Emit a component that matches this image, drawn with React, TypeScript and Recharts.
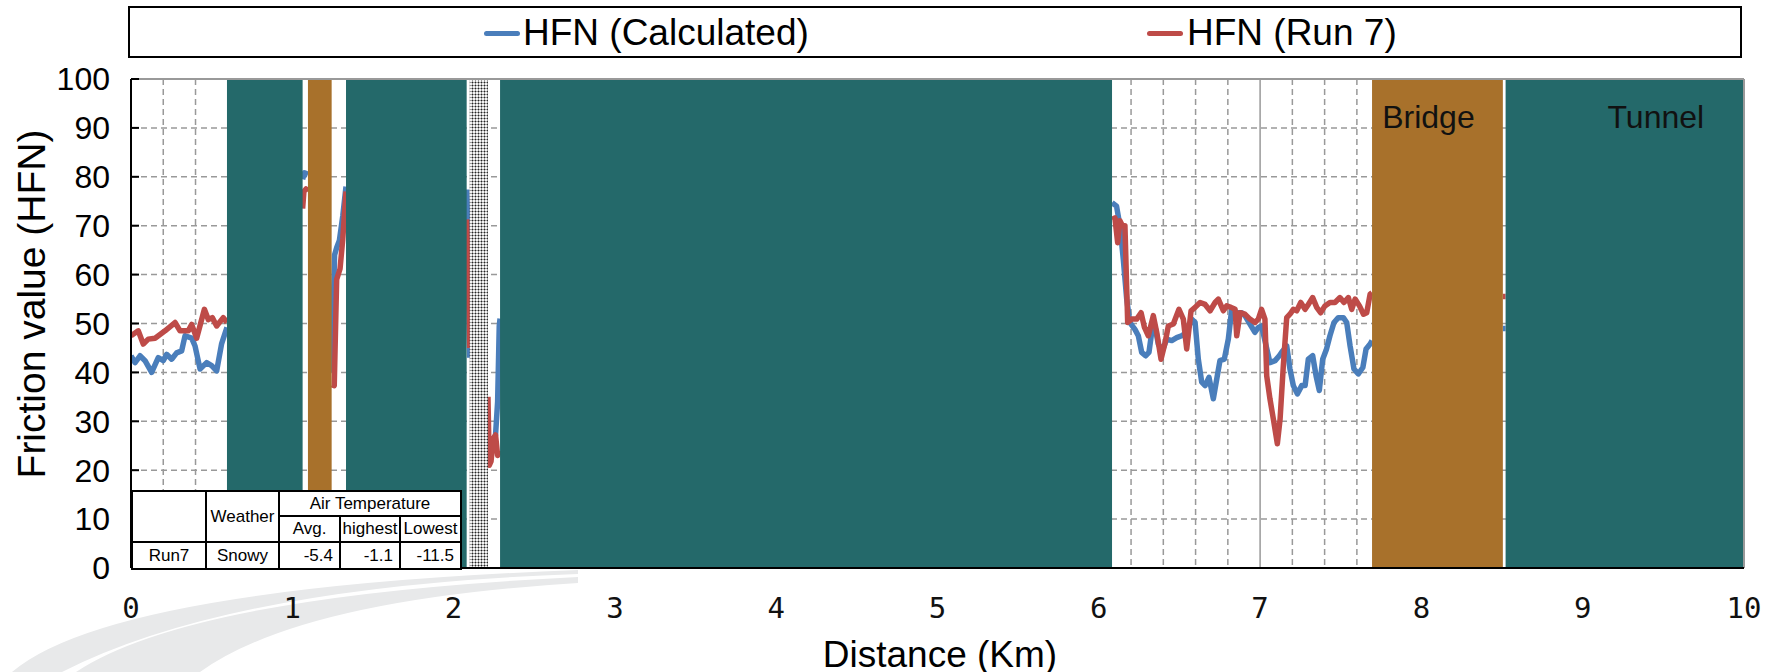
import React from 'react';
import { LineChart, Line, XAxis, YAxis, CartesianGrid, ReferenceArea, ReferenceLine } from 'recharts';

// HFN (Calculated) - null marks a break where the road is covered by a band
const calcKm = [
  0, 0.025, 0.056, 0.087, 0.128, 0.169, 0.2, 0.221, 0.252, 0.283, 0.314, 0.335, 0.376, 0.397, 0.428, 0.469, 0.5, 0.531, 0.562, 0.595,
  0.8,
  1.064, 1.075, 1.097,
  1.15,
  1.244, 1.262, 1.275, 1.292, 1.313, 1.333,
  1.7,
  2.081, 2.088, 2.1,
  2.15,
  2.213, 2.232, 2.26, 2.273, 2.283, 2.288,
  4,
  6.082, 6.11, 6.131, 6.152, 6.173, 6.193, 6.224, 6.245, 6.266, 6.29, 6.311, 6.328, 6.348, 6.369, 6.394, 6.421, 6.452, 6.483, 6.514,
  6.545, 6.576, 6.597, 6.617, 6.638, 6.659, 6.683, 6.71, 6.731, 6.751, 6.778, 6.803, 6.824, 6.855, 6.886, 6.906, 6.937, 6.968, 6.989,
  7.009, 7.03, 7.061, 7.093, 7.119, 7.14, 7.165, 7.185, 7.206, 7.231, 7.258, 7.279, 7.299, 7.326, 7.347, 7.367, 7.388, 7.412, 7.433,
  7.458, 7.485, 7.516, 7.537, 7.558, 7.582, 7.609, 7.637, 7.657, 7.682, 7.694,
  8.1,
  8.505, 8.522,
];
const calcHfn = [
  43.4, 42, 43.4, 42.4, 40, 43, 42.4, 43.7, 42.7, 44, 44.4, 47.5, 47, 45.4, 40.7, 42, 41.4, 40.3, 45.9, 49.2,
  null,
  79.5, 80.8, 80.5,
  null,
  40, 64, 65.5, 67, 72, 78,
  null,
  77.4, 70, 43,
  null,
  23, 24.5, 27.2, 34, 49.5, 51,
  null,
  74.7, 74, 70, 63.1, 55, 50.2, 48.8, 47.5, 44.1, 43.4, 44.1, 48.2, 49.5, 45.8, 44.4, 46.8, 46.5, 47.1, 47.5,
  48.2, 50.9, 50.2, 42.7, 38, 37.3, 39, 34.6, 38.6, 42.4, 42.7, 46.8, 52.9, 52.2, 52.2, 51.6, 49.9, 48.2, 49.2,
  49.5, 46.5, 42, 42.4, 43.4, 44.4, 45.4, 40.7, 37.3, 35.6, 37.3, 37.3, 42.7, 43.4, 39.3, 36.3, 42.7, 44.8, 47.5,
  50.2, 51.2, 51.2, 50.2, 45.4, 40.7, 39.7, 41, 44.8, 45.8, 46.5,
  null,
  49, 49,
];

// HFN (Run 7)
const run7Km = [
  0, 0.045, 0.076, 0.107, 0.149, 0.211, 0.273, 0.304, 0.355, 0.376, 0.407, 0.455, 0.479, 0.504, 0.531, 0.572, 0.595,
  0.8,
  1.064, 1.072, 1.085, 1.097,
  1.15,
  1.244, 1.26, 1.275, 1.296, 1.313, 1.333,
  1.7,
  2.081, 2.09, 2.1,
  2.15,
  2.213, 2.221, 2.232, 2.246, 2.26, 2.273, 2.288,
  4,
  6.082, 6.1, 6.117, 6.131, 6.146, 6.162, 6.179, 6.204, 6.235, 6.262, 6.283, 6.307, 6.338, 6.359, 6.386, 6.411, 6.431, 6.462, 6.497,
  6.524, 6.545, 6.572, 6.597, 6.628, 6.659, 6.69, 6.721, 6.741, 6.772, 6.793, 6.82, 6.845, 6.855, 6.876, 6.906, 6.937, 6.968, 6.989,
  7.009, 7.03, 7.041, 7.061, 7.082, 7.107, 7.124, 7.144, 7.165, 7.185, 7.206, 7.227, 7.252, 7.279, 7.299, 7.326, 7.351, 7.375, 7.402,
  7.433, 7.464, 7.495, 7.52, 7.547, 7.568, 7.589, 7.616, 7.641, 7.661, 7.682, 7.694,
  8.1,
  8.505, 8.522,
];
const run7Hfn = [
  47.5, 48.5, 45.8, 46.8, 47, 48.5, 50.2, 48.5, 48.5, 49.8, 47, 52.9, 50.8, 51.2, 49.5, 51.2, 50.2,
  null,
  73.5, 77, 77.5, 77,
  null,
  37.5, 37.3, 59, 61.2, 67.3, 77,
  null,
  71.3, 60, 45,
  null,
  35, 21, 21.8, 26.5, 27.2, 23, 24,
  null,
  71.3, 71.6, 66.5, 71, 70, 70, 50.2, 50.9, 50.9, 52.2, 49.2, 47.5, 51.6, 48.2, 42.7, 46.1, 49.5, 49.9, 52.9,
  50.9, 44.8, 52.6, 53.3, 54.3, 53.9, 52.6, 54.3, 55, 52.6, 53.6, 53.3, 52.9, 47.5, 52.2, 51.9, 50.9, 50.2, 50.9,
  52.9, 50.9, 39.3, 34.6, 30.5, 25.4, 30.5, 41.4, 51.2, 51.9, 52.9, 52.6, 54.3, 52.9, 53.9, 55.3, 53.3, 52.2, 53.6,
  54.3, 54.3, 55.3, 54.3, 55.3, 52.9, 55, 53.6, 51.9, 52.2, 56, 56.3,
  null,
  55.5, 55.5,
];

// covered sections of the route
const bandFrom = [0.595, 1.097, 1.333, 2.1, 2.288, 7.694, 8.522];
const bandTo = [1.064, 1.244, 2.081, 2.213, 6.082, 8.505, 10];
const bandKind = ['tunnel', 'bridge', 'tunnel', 'hatch', 'tunnel', 'bridge', 'tunnel'];
const bandLabel = ['', '', '', '', '', 'Bridge', 'Tunnel'];

const xTicks = [0, 1, 2, 3, 4, 5, 6, 7, 8, 9, 10];
const yTicks = [0, 10, 20, 30, 40, 50, 60, 70, 80, 90, 100];

const tempHead = ['Avg.', 'highest', 'Lowest'];
const run7Row = ['Run7', 'Snowy', '-5.4', '-1.1', '-11.5'];

const calcData = calcKm.map((km, i) => ({ km, hfn: calcHfn[i] }));
const run7Data = run7Km.map((km, i) => ({ km, hfn: run7Hfn[i] }));

const minorKm: number[] = [];
for (let i = 1; i < 50; i++) if (i % 5 !== 0) minorKm.push(i / 5);

const bandFill: Record<string, string> = { tunnel: '#24696a', bridge: '#a8712b', hatch: 'url(#hatch)' };

const FONT = '"Liberation Sans", Arial, sans-serif';

const minorGrid = (args: any) => {
  const { xAxis, offset } = args;
  return minorKm.map((v) => {
    const s = xAxis && xAxis.scale;
    if (typeof s === 'function') return s(v);
    return offset.left + (v / 10) * offset.width;
  });
};

const cell: React.CSSProperties = { border: '2.5px solid #000', padding: 0, textAlign: 'center' };

export default function App() {
  return (
    <div style={{ position: 'absolute', left: 0, top: 0, width: 1776, height: 672, background: '#fff', fontFamily: FONT }}>
      {/* faint road swoosh behind the chart */}
      <svg width={1776} height={672} style={{ position: 'absolute', left: 0, top: 0 }}>
        <path d="M 12 672 Q 110 588 578 570 L 578 574 Q 230 586 62 672 Z" fill="#e8e9ea" />
        <path d="M 76 672 Q 190 596 578 577 L 578 583 Q 300 600 200 672 Z" fill="#e8e9ea" />
      </svg>

      <div style={{ position: 'absolute', left: 0, top: 0 }}>
        <LineChart width={1776} height={672} margin={{ top: 79, right: 32, bottom: 0, left: 0 }} style={{ fontFamily: FONT }}>
          <defs>
            <pattern id="hatch" width="3" height="3" patternUnits="userSpaceOnUse">
              <rect width="3" height="3" fill="#f4f4f4" />
              <rect x="0" y="1" width="3" height="1" fill="#9a9a9a" />
              <rect x="1" y="0" width="1" height="3" fill="#9a9a9a" />
              <rect x="1" y="1" width="1" height="1" fill="#222" />
            </pattern>
          </defs>
          <CartesianGrid fill="#fff" fillOpacity={1} stroke="#999" strokeWidth={1.5} strokeDasharray="6 4" verticalCoordinatesGenerator={minorGrid} />
          <CartesianGrid horizontal={false} stroke="#999" strokeWidth={1.5} />

          <Line data={calcData} dataKey="hfn" name="HFN (Calculated)" type="linear" stroke="#4a7ebb" strokeWidth={5.5}
            strokeLinejoin="round" dot={false} activeDot={false} connectNulls={false} isAnimationActive={false} />
          <Line data={run7Data} dataKey="hfn" name="HFN (Run 7)" type="linear" stroke="#be4b48" strokeWidth={5.5}
            strokeLinejoin="round" dot={false} activeDot={false} connectNulls={false} isAnimationActive={false} />

          {bandFrom.map((x1, i) => (
            <ReferenceArea key={i} x1={x1} x2={bandTo[i]} y1={0} y2={100} fill={bandFill[bandKind[i]]} fillOpacity={1}
              stroke="none" zIndex={450} ifOverflow="hidden"
              label={bandLabel[i] ? { value: bandLabel[i], position: 'insideTop', offset: 26, dx: i === 6 ? 31 : -9, fontSize: 32, fill: '#111', fontFamily: FONT } : undefined} />
          ))}

          <ReferenceLine y={100} stroke="#999" strokeWidth={2} zIndex={460} />
          <ReferenceLine x={10} stroke="#999" strokeWidth={2} zIndex={460} />

          <XAxis dataKey="km" type="number" domain={[0, 10]} ticks={xTicks} interval={0} allowDataOverflow height={104}
            axisLine={{ stroke: '#000', strokeWidth: 2 }} tickLine={false} tickSize={0} tickMargin={29}
            tick={{ fontSize: 29, fontFamily: '"DejaVu Sans Mono", monospace', fill: '#111' }} />
          <YAxis type="number" domain={[0, 100]} ticks={yTicks} interval={0} width={131}
            axisLine={{ stroke: '#000', strokeWidth: 2 }} tickLine={{ stroke: '#000', strokeWidth: 2 }} tickSize={-8} tickMargin={29}
            tick={{ fontSize: 32, fontFamily: FONT, fill: '#000' }} />
        </LineChart>
      </div>

      {/* legend */}
      <div style={{ position: 'absolute', left: 128, top: 6, width: 1614, height: 52, border: '2px solid #000', boxSizing: 'border-box', background: '#fff' }}>
        <span style={{ position: 'absolute', left: 354, top: 23, width: 36, height: 5, borderRadius: 3, background: '#4a7ebb' }} />
        <span style={{ position: 'absolute', left: 393, top: 0, lineHeight: '50px', fontSize: 37, color: '#000', whiteSpace: 'nowrap' }}>HFN (Calculated)</span>
        <span style={{ position: 'absolute', left: 1017, top: 23, width: 36, height: 5, borderRadius: 3, background: '#be4b48' }} />
        <span style={{ position: 'absolute', left: 1057, top: 0, lineHeight: '50px', fontSize: 37, color: '#000', whiteSpace: 'nowrap' }}>HFN (Run 7)</span>
      </div>

      {/* axis titles */}
      <div style={{ position: 'absolute', left: 32, top: 304, transform: 'translate(-50%, -50%) rotate(-90deg)', fontSize: 39, whiteSpace: 'nowrap', color: '#000' }}>
        Friction value (HFN)
      </div>
      <div style={{ position: 'absolute', left: 940, top: 655, transform: 'translate(-50%, -50%)', fontSize: 37, whiteSpace: 'nowrap', color: '#000' }}>
        Distance (Km)
      </div>

      {/* weather table */}
      <table style={{ position: 'absolute', left: 131, top: 490, width: 329, height: 78, borderCollapse: 'collapse', tableLayout: 'fixed',
        background: '#fff', fontFamily: '"Liberation Sans Narrow", "Liberation Sans", Arial, sans-serif', fontSize: 17, color: '#000' }}>
        <colgroup>
          <col style={{ width: 74 }} />
          <col style={{ width: 73 }} />
          <col style={{ width: 61 }} />
          <col style={{ width: 60 }} />
          <col style={{ width: 61 }} />
        </colgroup>
        <tbody>
          <tr style={{ height: 25 }}>
            <td rowSpan={2} style={cell}></td>
            <td rowSpan={2} style={cell}>Weather</td>
            <td colSpan={3} style={cell}>Air Temperature</td>
          </tr>
          <tr style={{ height: 26 }}>
            {tempHead.map((t) => <td key={t} style={cell}>{t}</td>)}
          </tr>
          <tr style={{ height: 27 }}>
            {run7Row.map((t, i) => <td key={i} style={{ ...cell, textAlign: i < 2 ? 'center' : 'right', paddingRight: i < 2 ? 0 : 6 }}>{t}</td>)}
          </tr>
        </tbody>
      </table>
    </div>
  );
}
